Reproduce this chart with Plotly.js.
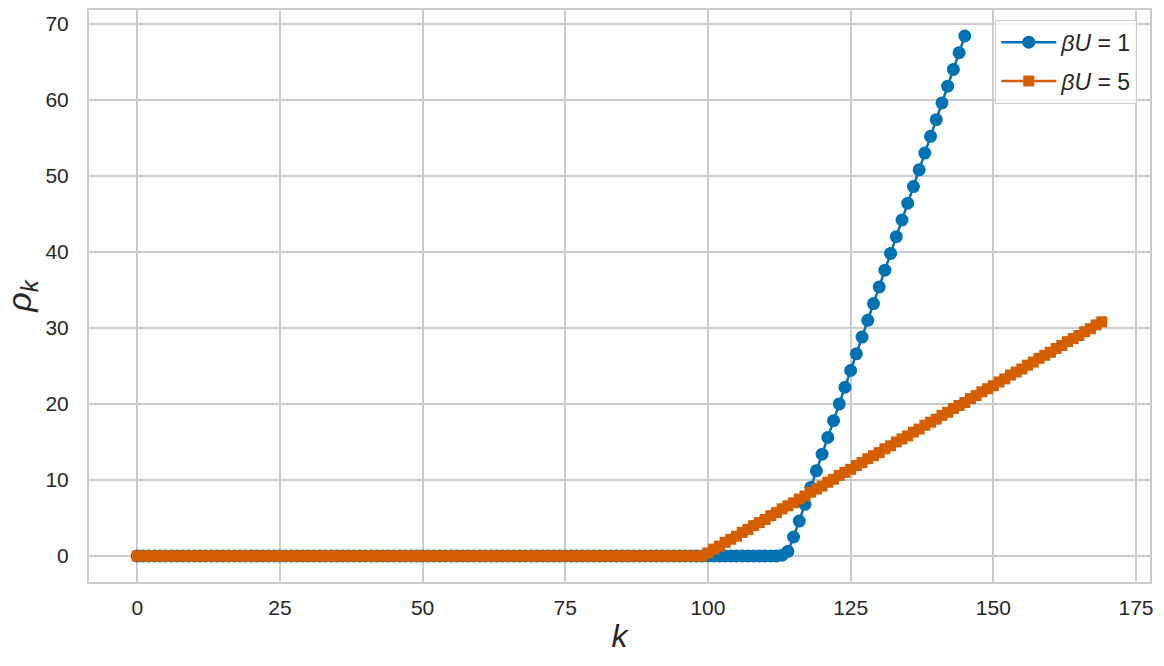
<!DOCTYPE html>
<html>
<head>
<meta charset="utf-8">
<script src="https://cdn.plot.ly/plotly-3.0.1.min.js"></script>
<style>
  html, body { margin: 0; padding: 0; background: #fff; }
  #chart { width: 1164px; height: 666px; }
</style>
</head>
<body>
<div id="chart"></div>
<script>
// rho_k for beta*U = 1, k = 0..145
var rhoU1 = [
  0, 0, 0, 0, 0, 0, 0, 0, 0, 0,
  0, 0, 0, 0, 0, 0, 0, 0, 0, 0,
  0, 0, 0, 0, 0, 0, 0, 0, 0, 0,
  0, 0, 0, 0, 0, 0, 0, 0, 0, 0,
  0, 0, 0, 0, 0, 0, 0, 0, 0, 0,
  0, 0, 0, 0, 0, 0, 0, 0, 0, 0,
  0, 0, 0, 0, 0, 0, 0, 0, 0, 0,
  0, 0, 0, 0, 0, 0, 0, 0, 0, 0,
  0, 0, 0, 0, 0, 0, 0, 0, 0, 0,
  0, 0, 0, 0, 0, 0, 0, 0, 0, 0,
  0, 0, 0, 0, 0, 0, 0, 0, 0, 0,
  0, 0, 0, 0.1, 0.6, 2.5, 4.6, 6.8, 9.0, 11.2,
  13.4, 15.6, 17.8, 20.0, 22.2, 24.4, 26.6, 28.8, 31.0, 33.2,
  35.4, 37.6, 39.8, 42.0, 44.2, 46.4, 48.6, 50.8, 53.0, 55.2,
  57.4, 59.6, 61.8, 64.0, 66.2, 68.4
];

// rho_k for beta*U = 5, k = 0..169
var rhoU5 = [
  0, 0, 0, 0, 0, 0, 0, 0, 0, 0,
  0, 0, 0, 0, 0, 0, 0, 0, 0, 0,
  0, 0, 0, 0, 0, 0, 0, 0, 0, 0,
  0, 0, 0, 0, 0, 0, 0, 0, 0, 0,
  0, 0, 0, 0, 0, 0, 0, 0, 0, 0,
  0, 0, 0, 0, 0, 0, 0, 0, 0, 0,
  0, 0, 0, 0, 0, 0, 0, 0, 0, 0,
  0, 0, 0, 0, 0, 0, 0, 0, 0, 0,
  0, 0, 0, 0, 0, 0, 0, 0, 0, 0,
  0, 0, 0, 0, 0, 0, 0, 0, 0, 0,
  0.4, 0.9, 1.3, 1.8, 2.2, 2.6, 3.1, 3.5, 4.0, 4.4,
  4.8, 5.3, 5.7, 6.2, 6.6, 7.0, 7.5, 7.9, 8.4, 8.8,
  9.2, 9.7, 10.1, 10.6, 11.0, 11.4, 11.9, 12.3, 12.8, 13.2,
  13.6, 14.1, 14.5, 15.0, 15.4, 15.8, 16.3, 16.7, 17.2, 17.6,
  18.0, 18.5, 18.9, 19.4, 19.8, 20.2, 20.7, 21.1, 21.6, 22.0,
  22.4, 22.9, 23.3, 23.8, 24.2, 24.6, 25.1, 25.5, 26.0, 26.4,
  26.8, 27.3, 27.7, 28.2, 28.6, 29.0, 29.5, 29.9, 30.4, 30.8
];

var seriesNames = ["<i>βU</i> = 1", "<i>βU</i> = 5"];
var xTicks = [0, 25, 50, 75, 100, 125, 150, 175];
var yTicks = [0, 10, 20, 30, 40, 50, 60, 70];

var fontFam = "Liberation Sans, Arial, sans-serif";

var traceU1 = {
  y: rhoU1,
  x0: 0, dx: 1,
  type: "scatter",
  mode: "lines+markers",
  name: seriesNames[0],
  legendgroup: "u1",
  line: {color: "#0072b2", width: 2.5},
  marker: {symbol: "circle", size: 13, color: "#0072b2"}
};
var traceU5 = {
  y: rhoU5,
  x0: 0, dx: 1,
  type: "scatter",
  mode: "lines+markers",
  name: seriesNames[1],
  legendgroup: "u5",
  line: {color: "#d55e00", width: 2.5},
  marker: {symbol: "square", size: 11, color: "#d55e00"}
};

var axisCommon = {
  showgrid: true,
  gridcolor: "#cccccc",
  gridwidth: 1.5,
  zeroline: false,
  showline: true,
  linecolor: "#cccccc",
  linewidth: 2,
  mirror: true,
  ticks: "",
  tickfont: {family: fontFam, size: 21, color: "#262626"}
};

var layout = {
  width: 1164,
  height: 666,
  paper_bgcolor: "#ffffff",
  plot_bgcolor: "#ffffff",
  margin: {l: 89, r: 14, t: 10, b: 84},
  showlegend: true,
  legend: {
    x: 0.988, y: 0.983, xanchor: "right", yanchor: "top",
    bgcolor: "rgba(255,255,255,0.8)",
    bordercolor: "#cccccc", borderwidth: 1,
    itemwidth: 55,
    tracegroupgap: 6,
    traceorder: "grouped",
    font: {family: fontFam, size: 23, color: "#262626"}
  },
  xaxis: Object.assign({}, axisCommon, {
    range: [-8.45, 177.45],
    tickvals: xTicks,
    ticklabelstandoff: 6,
    title: {text: "<i>k</i>", font: {family: fontFam, size: 32, color: "#262626"}, standoff: 6}
  }),
  yaxis: Object.assign({}, axisCommon, {
    range: [-3.42, 71.82],
    tickvals: yTicks,
    ticklabelstandoff: 14,
    title: {text: "<i>ρ</i><sub><i>k</i></sub>", font: {family: fontFam, size: 34, color: "#262626"}, standoff: 10}
  })
};

Plotly.newPlot("chart", [traceU1, traceU5], layout, {displayModeBar: false});
</script>
</body>
</html>
